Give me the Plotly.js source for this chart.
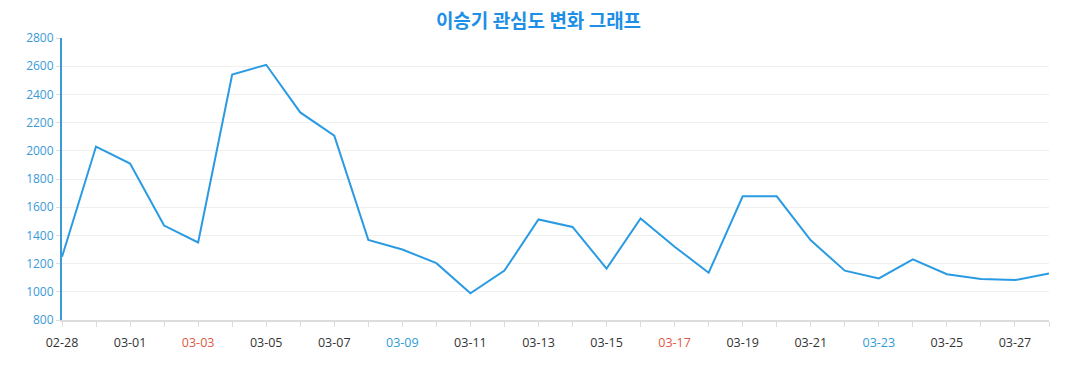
<!DOCTYPE html>
<html>
<head>
<meta charset="utf-8">
<script src="https://cdn.plot.ly/plotly-3.0.1.min.js"></script>
<style>html,body{margin:0;padding:0;background:#fff;}#chart{width:1077px;height:390px;}</style>
</head>
<body>
<div id="chart"></div>
<script>
const dates = ["02-28","02-29","03-01","03-02","03-03","03-04","03-05","03-06","03-07","03-08",
  "03-09","03-10","03-11","03-12","03-13","03-14","03-15","03-16","03-17","03-18",
  "03-19","03-20","03-21","03-22","03-23","03-24","03-25","03-26","03-27","03-28"];
const values = [1248,2030,1910,1470,1350,2540,2610,2272,2108,1368,
  1300,1203,990,1150,1513,1460,1165,1520,1320,1135,
  1677,1677,1365,1150,1095,1230,1125,1090,1083,1130];
const labelDates = ["02-28","03-01","03-03","03-05","03-07","03-09","03-11","03-13","03-15","03-17","03-19","03-21","03-23","03-25","03-27"];
const redDates = ["03-03","03-17"];
const blueDates = ["03-09","03-23"];
const yTicks = [800,1000,1200,1400,1600,1800,2000,2200,2400,2600,2800];

const tickText = dates.map(d => {
  if (!labelDates.includes(d)) return "";
  if (redDates.includes(d)) return '<span style="color:#e0573f">' + d + '</span>';
  if (blueDates.includes(d)) return '<span style="color:#2f9bd6">' + d + '</span>';
  return d;
});

const trace = {
  x: dates, y: values, type: "scatter", mode: "lines",
  line: {color: "#2a9be3", width: 2},
  hoverinfo: "x+y"
};

const layout = {
  width: 1077, height: 390,
  margin: {l: 62, r: 28, t: 38, b: 70},
  paper_bgcolor: "#fff", plot_bgcolor: "#fff",
  showlegend: false,
  title: {text: "<b>이승기 관심도 변화 그래프</b>", x: 0.5, xanchor: "center",
    yref: "container", y: 0.946, yanchor: "middle",
    font: {family: "Noto Sans CJK KR, Noto Sans, sans-serif", size: 19, color: "#1e8fe6"}},
  xaxis: {
    type: "category", tickmode: "array", tickvals: dates, ticktext: tickText,
    range: [0, dates.length - 1],
    showgrid: false, zeroline: false,
    showline: true, linecolor: "#dcdcdc", linewidth: 2,
    ticks: "outside", ticklen: 5, tickcolor: "#dcdcdc", tickwidth: 1,
    tickangle: 0, ticklabelstandoff: 5,
    tickfont: {family: "Open Sans, Noto Sans, sans-serif", size: 12.5, color: "#333"}
  },
  yaxis: {
    range: [800, 2800], tickmode: "array", tickvals: yTicks,
    showgrid: true, gridcolor: "#efefef", gridwidth: 1, zeroline: false,
    showline: true, linecolor: "#3a9ad8", linewidth: 2,
    ticks: "outside", ticklen: 4, tickcolor: "#dcdcdc",
    tickfont: {family: "Open Sans, Noto Sans, sans-serif", size: 12, color: "#3a9ad8"}
  }
};

Plotly.newPlot("chart", [trace], layout, {displayModeBar: false, staticPlot: true});
</script>
</body>
</html>
